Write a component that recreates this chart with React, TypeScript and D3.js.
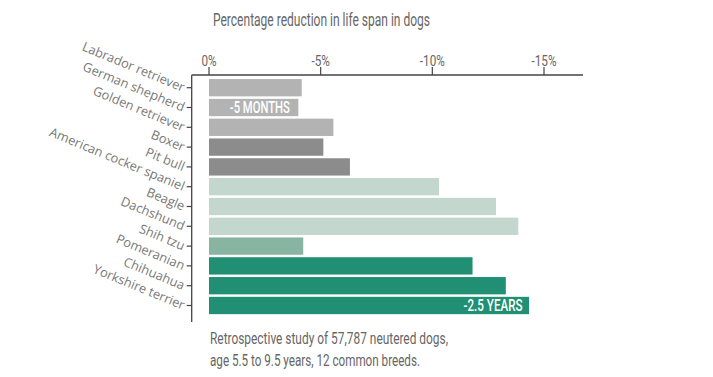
import React, { useEffect, useRef } from "react";
import * as d3 from "d3";

const breeds = [
  "Labrador retriever",
  "German shepherd",
  "Golden retriever",
  "Boxer",
  "Pit bull",
  "American cocker spaniel",
  "Beagle",
  "Dachshund",
  "Shih tzu",
  "Pomeranian",
  "Chihuahua",
  "Yorkshire terrier",
];
const reductions = [4.15, 4.0, 5.57, 5.12, 6.31, 10.3, 12.85, 13.85, 4.22, 11.8, 13.29, 14.33];
const barColors = [
  "#b3b3b3", "#b3b3b3", "#b3b3b3",
  "#8c8c8c", "#8c8c8c",
  "#c3d7ce", "#c3d7ce", "#c3d7ce",
  "#88b5a2",
  "#218f73", "#218f73", "#218f73",
];
const barLabels = ["", "-5 MONTHS", "", "", "", "", "", "", "", "", "", "-2.5 YEARS"];
const tickValues = [0, 5, 10, 15];
const tickLabels = ["0%", "-5%", "-10%", "-15%"];
const title = "Percentage reduction in life span in dogs";
const footnote = [
  "Retrospective study of 57,787 neutered dogs,",
  "age 5.5 to 9.5 years, 12 common breeds.",
];

const W = 713;
const H = 377;
const condensed = "'Roboto', 'DejaVu Sans', sans-serif";

// squeeze a text selection horizontally to mimic a condensed face
function squeeze(sel: d3.Selection<SVGTextElement, any, any, any>, factor: number) {
  sel.each(function () {
    const len = this.getComputedTextLength();
    d3.select(this).attr("textLength", len * factor).attr("lengthAdjust", "spacingAndGlyphs");
  });
}

export default function App() {
  const ref = useRef<SVGSVGElement | null>(null);

  useEffect(() => {
    document.body.style.margin = "0";
    const svg = d3.select(ref.current);
    svg.selectAll("*").remove();

    const x = d3.scaleLinear().domain([0, 15]).range([209, 544]);
    const y = d3
      .scaleBand<string>()
      .domain(breeds)
      .range([77.8, 315.4])
      .paddingInner(0.125)
      .paddingOuter(0.0625);

    const axisX0 = 191.7;
    const axisY = 75;

    // title
    svg
      .append("text")
      .attr("x", 213)
      .attr("y", 25.5)
      .attr("font-family", condensed)
      .attr("font-size", 17.5)
      .attr("fill", "#666")
      .attr("textLength", 217)
      .attr("lengthAdjust", "spacingAndGlyphs")
      .text(title);

    // bars
    svg
      .append("g")
      .selectAll("rect")
      .data(breeds)
      .join("rect")
      .attr("x", x(0))
      .attr("y", (d) => y(d)!)
      .attr("width", (d, i) => x(reductions[i]) - x(0))
      .attr("height", y.bandwidth())
      .attr("fill", (d, i) => barColors[i]);

    // bar labels
    const labelWidths = [60, 59];
    svg
      .append("g")
      .selectAll("text")
      .data(breeds.filter((d, i) => barLabels[i]))
      .join("text")
      .attr("x", (d) => {
        const i = breeds.indexOf(d);
        return i === 1 ? x(reductions[i]) - 8.5 : x(reductions[i]) - 6.5;
      })
      .attr("y", (d) => y(d)! + y.bandwidth() / 2)
      .attr("dy", "0.36em")
      .attr("text-anchor", "end")
      .attr("font-family", condensed)
      .attr("font-weight", 500)
      .attr("font-size", 16.5)
      .attr("fill", "#fff")
      .attr("textLength", (d, i) => labelWidths[i])
      .attr("lengthAdjust", "spacingAndGlyphs")
      .text((d) => barLabels[breeds.indexOf(d)]);

    // top axis
    const top = svg.append("g");
    top
      .append("line")
      .attr("x1", axisX0)
      .attr("x2", 583)
      .attr("y1", axisY)
      .attr("y2", axisY)
      .attr("stroke", "#444")
      .attr("stroke-width", 1.3);
    top
      .selectAll("line.tick")
      .data(tickValues)
      .join("line")
      .attr("class", "tick")
      .attr("x1", (d) => x(d))
      .attr("x2", (d) => x(d))
      .attr("y1", axisY - 8)
      .attr("y2", axisY)
      .attr("stroke", "#444")
      .attr("stroke-width", 1.2);
    const tl = top
      .selectAll("text")
      .data(tickValues)
      .join("text")
      .attr("x", (d) => x(d))
      .attr("y", 65.5)
      .attr("text-anchor", "middle")
      .attr("font-family", condensed)
      .attr("font-size", 15)
      .attr("fill", "#666")
      .text((d, i) => tickLabels[i]);
    squeeze(tl as any, 0.78);

    // left axis
    const left = svg.append("g");
    left
      .append("line")
      .attr("x1", axisX0)
      .attr("x2", axisX0)
      .attr("y1", axisY)
      .attr("y2", 322)
      .attr("stroke", "#444")
      .attr("stroke-width", 1.3);
    left
      .selectAll("line.tick")
      .data(breeds)
      .join("line")
      .attr("class", "tick")
      .attr("x1", axisX0 - 5)
      .attr("x2", axisX0)
      .attr("y1", (d) => y(d)! + y.bandwidth() / 2)
      .attr("y2", (d) => y(d)! + y.bandwidth() / 2)
      .attr("stroke", "#444")
      .attr("stroke-width", 1.2);
    left
      .selectAll("text")
      .data(breeds)
      .join("text")
      .attr("transform", (d) => `translate(184,${y(d)! + y.bandwidth() / 2 + 0.5}) rotate(22.5)`)
      .attr("dy", "0.32em")
      .attr("text-anchor", "end")
      .attr("font-family", "'Open Sans', sans-serif")
      .attr("font-size", 12.8)
      .attr("fill", "#777")
      .text((d) => d);

    // footnote
    const widths = [238, 210];
    svg
      .append("g")
      .selectAll("text")
      .data(footnote)
      .join("text")
      .attr("x", 210)
      .attr("y", (d, i) => 344 + i * 22)
      .attr("font-family", condensed)
      .attr("font-size", 17)
      .attr("fill", "#666")
      .attr("textLength", (d, i) => widths[i])
      .attr("lengthAdjust", "spacingAndGlyphs")
      .text((d) => d);
  }, []);

  return <svg ref={ref} width={W} height={H} style={{ display: "block", background: "#fff" }} />;
}
